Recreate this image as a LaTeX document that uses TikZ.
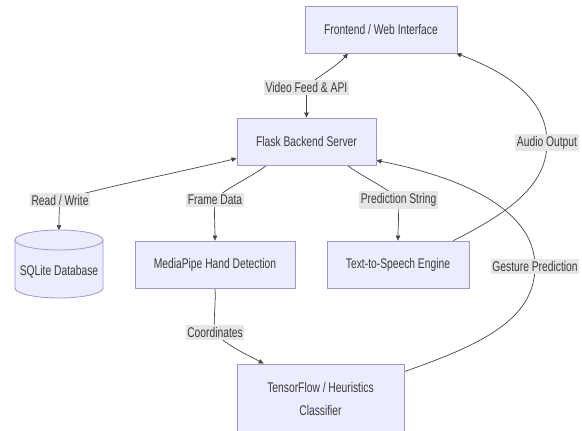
\documentclass[tikz,border=0pt]{standalone}
\usepackage{fontspec}
\setmainfont[FakeStretch=0.735]{Liberation Sans}
\usetikzlibrary{arrows.meta}
\pgfdeclarelayer{bg}
\pgfsetlayers{bg,main}
\definecolor{boxfill}{HTML}{ECECFF}
\definecolor{boxline}{HTML}{A593DD}
\definecolor{lblfill}{HTML}{E6E6E6}
\definecolor{ink}{HTML}{3A3A3A}
\definecolor{edgecol}{HTML}{454545}
\begin{document}
\begin{tikzpicture}[x=1pt,y=-1pt,
  font=\fontsize{14}{16}\selectfont,
  >={Triangle[length=5pt,width=4.5pt]},
  boxnode/.style={draw=boxline, fill=boxfill, line width=0.8pt, text=ink, inner sep=0pt, align=center},
  lbl/.style={fill=lblfill, text=ink, inner xsep=1.5pt, inner ysep=2pt},
  conn/.style={draw=edgecol, line width=0.7pt}]
\useasboundingbox (0,0) rectangle (582,431);
\begin{pgfonlayer}{bg}
\fill[white] (0,0) rectangle (582,431);
\end{pgfonlayer}

% boxes
\node[boxnode, minimum width=152pt, minimum height=47pt] (fe) at (381,29.5) {Frontend / Web Interface};
\node[boxnode, minimum width=139pt, minimum height=47pt] (fl) at (306.5,141.5) {Flask Backend Server};
\node[boxnode, minimum width=160pt, minimum height=47pt] (mp) at (215,264.5) {MediaPipe Hand Detection};
\node[boxnode, minimum width=142pt, minimum height=47pt] (tts) at (398,264.5) {Text-to-Speech Engine};
\node[boxnode, minimum width=167pt, minimum height=69pt, font=\fontsize{14}{23}\selectfont] (tf) at (320.5,398.5) {TensorFlow / Heuristics\\Classifier};

% database cylinder
\draw[draw=boxline, fill=boxfill, line width=0.8pt]
  (15,240) -- (15,288) arc[start angle=180, end angle=0, x radius=44, y radius=10]
  -- (103,240) arc[start angle=0, end angle=-180, x radius=44, y radius=10] -- cycle;
\draw[draw=boxline, line width=0.8pt] (15,240) arc[start angle=180, end angle=0, x radius=44, y radius=10];
\node[text=ink] (db) at (59,272) {SQLite Database};
\coordinate (dbtop) at (59,230);

% labels
\node[lbl] (l1) at (306.5,87.5) {Video Feed \& API};
\node[lbl] (l2) at (60,200) {Read / Write};
\node[lbl] (l3) at (215,200) {Frame Data};
\node[lbl] (l4) at (398.5,200) {Prediction String};
\node[lbl] (l5) at (215,332.5) {Coordinates};
\node[lbl] (l6) at (535,266.5) {Gesture Prediction};
\node[lbl] (l7) at (547,142.5) {Audio Output};

\begin{pgfonlayer}{bg}
\draw[conn,<->] ([xshift=-33pt]fe.south) .. controls (335,68) and (312,80) .. (l1.center)
  .. controls (306.5,100) and (306.5,108) .. (fl.north);
\draw[conn,<->] ([yshift=7pt]fl.south west) .. controls (180,172) and (100,188) .. (l2.center)
  .. controls (59,212) and (59,220) .. (dbtop);
\draw[conn,->] ([xshift=30pt]fl.south west) .. controls (250,178) and (222,190) .. (l3.center)
  .. controls (214,215) and (215,228) .. (mp.north);
\draw[conn,->] ([xshift=-29pt]fl.south east) .. controls (364,178) and (392,190) .. (l4.center)
  .. controls (399,215) and (398,228) .. (tts.north);
\draw[conn,->] (mp.south) .. controls (216,305) and (213,320) .. (l5.center)
  .. controls (225,345) and (250,356) .. ([xshift=27pt]tf.north west);
\draw[conn,->] ([yshift=-8pt]tf.north east) .. controls (480,345) and (535,320) .. (l6.center)
  .. controls (535,205) and (450,175) .. ([yshift=5pt]fl.south east);
\draw[conn,->] ([xshift=-16pt]tts.north east) .. controls (510,212) and (547,185) .. (l7.center)
  .. controls (547,95) and (500,70) .. ([xshift=-1pt]fe.south east);
\end{pgfonlayer}
\end{tikzpicture}
\end{document}
